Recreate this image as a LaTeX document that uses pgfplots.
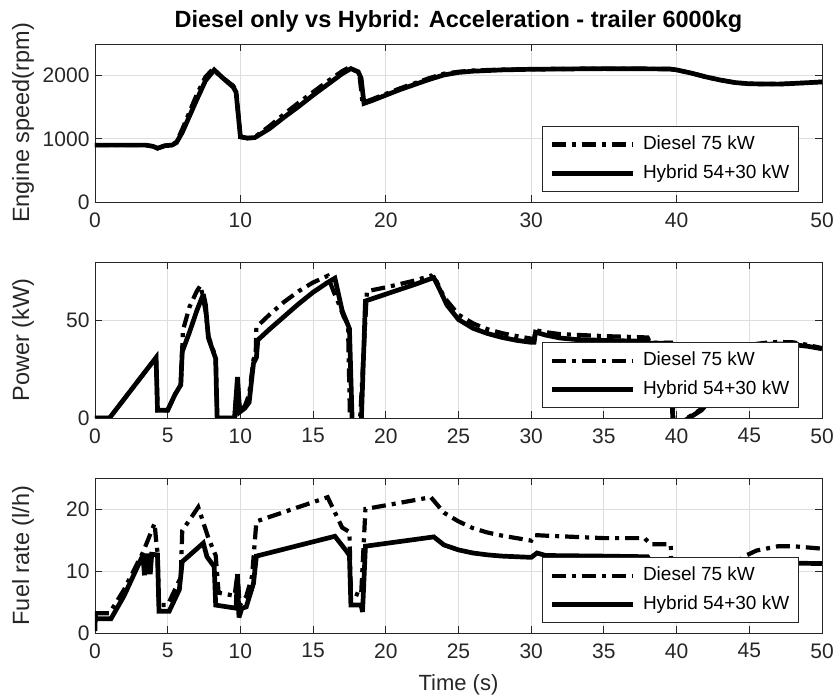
\documentclass[border=0pt]{standalone}
\usepackage{fontspec}
\setmainfont{Liberation Sans}
\usepackage{pgfplots}
\pgfplotsset{compat=1.18}
\definecolor{axgray}{gray}{0.15}
\definecolor{gridgray}{gray}{0.87}

\pgfplotsset{
  panel/.style={
    scale only axis, width=727pt,
    xmin=0, xmax=50, ymin=0,
    axis line style={axgray, line width=0.9pt},
    tick style={axgray, line width=0.9pt},
    major tick length=7pt,
    tick align=inside, xtick pos=both, ytick pos=both,
    grid=major, major grid style={gridgray, line width=0.9pt},
    ticklabel style={font=\fontsize{21}{24}\selectfont, text=axgray},
    xticklabel style={yshift=-7pt},
    yticklabel style={xshift=-2pt, /pgf/number format/1000 sep={}},
    /pgf/number format/assume math mode=true,
    scaled ticks=false,
    every axis y label/.style={at={(axis description cs:-0.099,0.5)}, rotate=90, anchor=center,
      font=\fontsize{23.5}{26}\selectfont, text=axgray},
    legend cell align=left,
    legend style={at={(axis description cs:0.968,0.063)}, anchor=south east,
      draw=axgray, fill=white, line width=0.9pt,
      font=\fontsize{19}{22}\selectfont, text=black,
      inner xsep=7pt, inner ysep=7pt, row sep=7pt, column sep=0pt,
      nodes={inner sep=2pt, text height=14pt, text depth=4pt}},
    legend image code/.code={\draw[#1] (0pt,0pt) -- (81pt,0pt); \path (87pt,0pt);},
  },
  diesel/.style={black, line width=4.2pt, dash pattern=on 14pt off 6pt on 4pt off 6pt,
    line join=miter, miter limit=3},
  hybrid/.style={black, line width=4.7pt, line join=miter, miter limit=3},
}

\begin{document}
\begin{tikzpicture}
\path[use as bounding box] (-95pt,-62pt) rectangle (738pt,633pt);

% Engine speed
\begin{axis}[panel, at={(0pt,431pt)}, height=158pt,
    ymax=2500, ytick={0,1000,2000}, xtick={0,10,20,30,40,50},
    ylabel={Engine speed(rpm)},
    title={Diesel only vs Hybrid: Acceleration - trailer 6000kg},
    title style={at={(axis description cs:0.5,1.065)}, anchor=base,
      font=\fontsize{23.5}{26}\selectfont\bfseries}]
\addplot[diesel] coordinates {
(0,900)(3.5,900)(4.0,880)(4.3,850)(4.8,890)(5.3,905)(5.6,950)(6.0,1150)(7.0,1700)
(7.6,1980)(8.1,2100)(8.7,1980)(9.5,1840)(9.7,1760)(10.0,1030)(10.5,1010)(11.0,1030)
(12,1200)(13,1390)(14,1570)(15,1740)(16,1910)(17,2070)(17.4,2120)(18.0,2070)(18.2,1980)
(18.4,1570)(19,1620)(20,1710)(21,1800)(22,1880)(23,1960)(24,2030)(25,2060)(26,2080)
(28,2095)(30,2100)(35,2110)(39.5,2105)(40,2090)(41,2040)(42,1980)(43,1930)(44,1890)
(45,1870)(47,1865)(48,1875)(50,1900)
};
\addlegendentry{Diesel 75 kW}
\addplot[hybrid] coordinates {
(0,900)(3.5,900)(4.0,880)(4.3,850)(4.8,890)(5.3,900)(5.6,940)(6.0,1100)(7.0,1620)
(7.6,1920)(8.2,2090)(8.8,1960)(9.5,1820)(9.7,1740)(10.0,1030)(10.5,1010)(11.0,1020)
(12,1160)(13,1340)(14,1510)(15,1690)(16,1860)(17,2030)(17.6,2110)(18.1,2060)(18.3,1960)
(18.5,1560)(19,1600)(20,1690)(21,1780)(22,1860)(23,1940)(24,2010)(25,2050)(26,2070)
(28,2090)(30,2100)(35,2110)(39.5,2105)(40,2090)(41,2040)(42,1980)(43,1930)(44,1890)
(45,1870)(47,1865)(48,1875)(50,1900)
};
\addlegendentry{Hybrid 54+30 kW}
\end{axis}

% Power
\begin{axis}[panel, at={(0pt,215pt)}, height=156pt,
    ymax=80, ytick={0,50}, xtick={0,5,...,50},
    ylabel={Power (kW)}]
\addplot[diesel] coordinates {
(0,0)(1.0,0)(4.2,31)(4.3,4)(5.0,4)(5.5,12)(5.9,17)(6.05,45)(6.5,57)(7.0,65)(7.26,68)
(7.6,55)(7.8,42)(8.3,31)(8.4,0)(9.6,0)(9.8,20)(9.95,4)(10.3,6)(10.6,12)(10.9,30)
(11.05,32)(11.1,46.6)(12,53)(13,59.5)(14,65)(15,69.5)(16,72.9)(16.4,65)(16.8,58)
(17.1,52)(17.4,48)(17.55,-5)(18.2,-5)(18.7,65)(20,67)(22,70.5)(23.1,73)(23.5,70)
(24,62)(25,53)(26,48.5)(27,45.5)(28,43.5)(29,42)(30,40.7)(30.2,40.7)(30.3,45)(31,44)
(32,43)(35,42)(38,41.3)(38.2,38.6)(39.6,38.6)(39.8,-5)(40.1,-3)(41.7,4.6)(43,16)
(44,29)(45,37.5)(46,38.5)(47,39)(48,38.8)(49,37.5)(50,35.8)
};
\addlegendentry{Diesel 75 kW}
\addplot[hybrid] coordinates {
(0,0)(1.0,0)(4.2,31)(4.3,4)(5.0,4)(5.5,12)(5.9,17)(6.0,34)(6.5,44)(7.0,55)(7.45,63.5)
(7.6,58)(7.8,41)(8.3,30.5)(8.4,0)(9.6,0)(9.8,21)(9.95,3)(10.3,5)(10.6,8)(10.9,28)
(11.1,31)(11.2,40)(12,45.5)(13,52)(14,58.5)(15,64.5)(16,69.5)(16.5,71.7)(17.0,55)
(17.5,45.8)(17.7,-5)(18.3,-5)(18.6,60)(20,63.5)(22,68.5)(23.3,72)(23.7,66)(24.2,58)
(25,50.5)(26,46)(27,43.3)(28,41.3)(29,39.8)(30,38.8)(30.2,38.8)(30.3,44)(31,42.5)
(32,41)(33,40.3)(35,39.8)(38,39.3)(38.2,38.3)(39.6,38.3)(39.75,-5)(40.2,-3)(41.7,4)
(43,15)(44,28)(45,37)(46,37.8)(47,38)(48,37.6)(49,36.8)(50,35.5)
};
\addlegendentry{Hybrid 54+30 kW}
\end{axis}

% Fuel rate
\begin{axis}[panel, at={(0pt,0pt)}, height=155pt,
    ymax=25, ytick={0,10,20}, xtick={0,5,...,50},
    ylabel={Fuel rate (l/h)}, xlabel={Time (s)},
    every axis x label/.style={at={(axis description cs:0.5,-0.335)}, anchor=center,
      font=\fontsize{22}{25}\selectfont, text=axgray}]
\addplot[diesel] coordinates {
(0,3.2)(1.0,3.2)(2,7)(3.3,13)(4.1,17.7)(4.2,15)(4.3,13)(4.4,4.5)(5.0,4.5)(5.5,7)
(5.9,9)(6.0,16.5)(7.1,20.3)(7.8,15.3)(8.3,12.5)(8.5,6.5)(9.6,6.0)(9.8,9.6)(9.95,4.5)
(10.4,5.9)(10.8,9.1)(11.1,18.0)(16.0,21.9)(17.0,17)(17.5,16.3)(17.6,6.6)(18.3,6.0)
(18.6,20)(23.1,21.9)(24,19.4)(25,18)(26,16.9)(27,16.2)(28,15.7)(29,15.3)(30,14.9)
(30.2,15.8)(31,15.7)(35,15.3)(37.8,15.3)(38.2,14.3)(39.6,14.3)(39.7,4)(42,5)(44,10)
(44.5,12.2)(45.5,13.3)(47,14)(48,14)(50,13.6)
};
\addlegendentry{Diesel 75 kW}
\addplot[hybrid] coordinates {
(0,0.3)(0.02,3.0)(0.05,2.3)(1.1,2.3)(2,6)(3.3,12.6)(3.4,9.3)(3.5,12.8)(3.6,9.5)
(3.7,12.8)(3.8,9.5)(3.9,12.7)(4.3,12.6)(4.4,3.5)(5.1,3.5)(5.8,7)(6.0,11.5)(7.45,14.5)
(7.7,12.3)(8.2,10.7)(8.3,4.5)(9.7,4.0)(9.8,9.5)(9.9,2.5)(10.1,4.0)(10.4,4.2)(10.9,8.0)
(11.1,12.4)(16.5,15.6)(17.3,13.2)(17.5,12.5)(17.6,4.5)(18.3,4.5)(18.4,3.4)(18.6,14.0)
(23.3,15.5)(24,14.2)(25,13.4)(26,12.9)(27,12.6)(28,12.4)(30,12.2)(30.4,12.9)(31,12.5)
(35,12.4)(38,12.3)(38.2,11.5)(39.6,11.5)(39.8,4)(42,5)(44.5,9)(45.3,11.3)(47,11.3)
(50,11.2)
};
\addlegendentry{Hybrid 54+30 kW}
\end{axis}
\end{tikzpicture}
\end{document}
